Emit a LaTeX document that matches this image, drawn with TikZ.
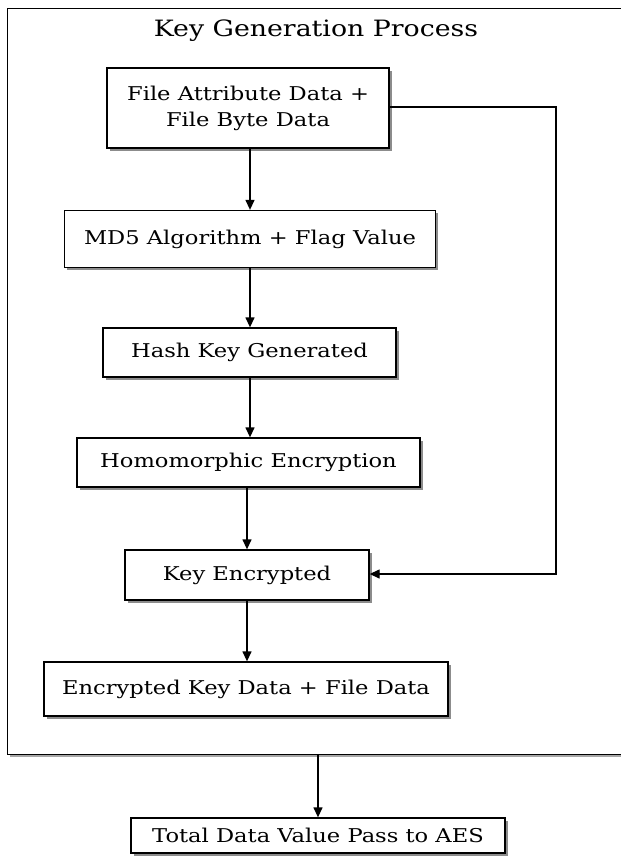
\documentclass[tikz,border=0pt]{standalone}
\usepackage{fontspec}
\setmainfont[FakeStretch=1.19]{DejaVu Serif}
\usetikzlibrary{arrows.meta,shadows}
\begin{document}
\begin{tikzpicture}[x=1pt,y=-1pt,
  stepbox/.style={draw=black,line width=1.3pt,fill=white,inner sep=0pt,align=center,
    font=\fontsize{19}{26}\selectfont,
    drop shadow={shadow xshift=2.5pt,shadow yshift=-2.5pt,fill=black!45,opacity=1}},
  conn/.style={line width=1.3pt,-{Triangle[length=10pt,width=9pt]}}]
\useasboundingbox (0,0) rectangle (621,863);
\node[draw=black,fill=white,line width=1.3pt,minimum width=630pt,minimum height=746pt,inner sep=0pt,anchor=north west,
  drop shadow={shadow xshift=2pt,shadow yshift=-2pt,fill=black!35,opacity=1}] (frame) at (7,8) {};
\node[font=\fontsize{22.5}{26}\selectfont] (title) at (316,31) {Key Generation Process};
\node[stepbox,minimum width=282pt,minimum height=80pt] (b1) at (248,108) {File Attribute Data +\\File Byte Data};
\node[stepbox,minimum width=371pt,minimum height=57pt] (b2) at (250,239) {MD5 Algorithm + Flag Value};
\node[stepbox,minimum width=293pt,minimum height=49pt] (b3) at (249.5,352.5) {Hash Key Generated};
\node[stepbox,minimum width=343pt,minimum height=49pt] (b4) at (248.5,462.5) {Homomorphic Encryption};
\node[stepbox,minimum width=244pt,minimum height=50pt] (b5) at (247,575) {Key Encrypted};
\node[stepbox,minimum width=404pt,minimum height=54pt] (b6) at (246,689) {Encrypted Key Data + File Data};
\node[stepbox,minimum width=374pt,minimum height=35pt] (b7) at (318,835.5) {Total Data Value Pass to AES};
\coordinate (c1) at (556,107);
\coordinate (c2) at (556,574);
\draw[conn] (b2.north |- b1.south) -- (b2.north);
\draw[conn] (b2.south) -- (b2.south |- b3.north);
\draw[conn] (b2.south |- b3.south) -- (b2.south |- b4.north);
\draw[conn] (b5.north |- b4.south) -- (b5.north);
\draw[conn] (b5.south) -- (b5.south |- b6.north);
\draw[conn] (b1.east |- c1) -- (c1) -- (c2) -- (b5.east |- c2);
\draw[conn] (b7.north |- frame.south) -- (b7.north);
\end{tikzpicture}
\end{document}
